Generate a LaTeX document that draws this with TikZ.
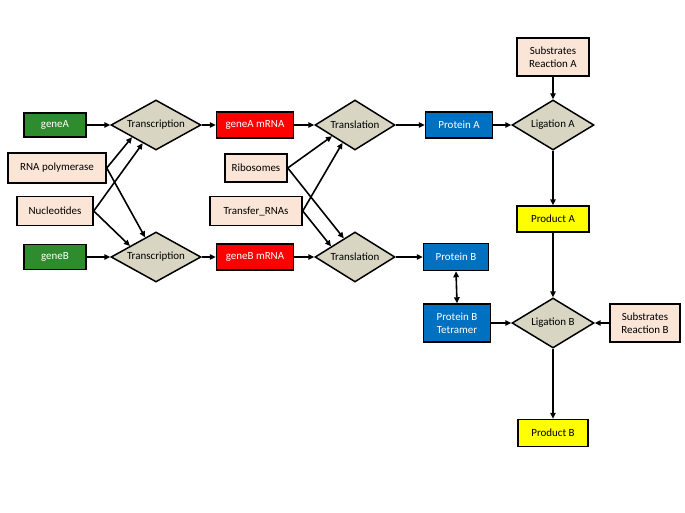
\documentclass[tikz,border=0pt]{standalone}
\usepackage{fontspec}
\setmainfont{Carlito}
\usetikzlibrary{shapes.geometric,arrows.meta}
\definecolor{genegreen}{RGB}{46,139,46}
\definecolor{mrnared}{RGB}{255,0,0}
\definecolor{protblue}{RGB}{0,112,192}
\definecolor{inpeach}{RGB}{251,229,214}
\definecolor{prodyellow}{RGB}{255,255,0}
\definecolor{reacttan}{RGB}{217,213,195}
\begin{document}
\begin{tikzpicture}[x=1bp,y=-1bp,
  every node/.style={font=\fontsize{11}{13.5}\selectfont},
  >={Triangle[length=6pt,width=5.5pt]},
  box/.style={draw,line width=1.5pt,minimum height=26bp,inner sep=1pt,align=center},
  gene/.style={box,fill=genegreen,text=white},
  mrna/.style={box,fill=mrnared,text=white},
  protein/.style={box,fill=protblue,text=white},
  input/.style={box,fill=inpeach},
  product/.style={box,fill=prodyellow},
  react/.style={draw,diamond,aspect=1.8,line width=1.5pt,fill=reacttan,inner sep=0pt,minimum height=50bp},
  link/.style={->,line width=1.6pt}]
\fill[white] (0,0) rectangle (685,513);
\useasboundingbox (0,0) rectangle (685,513);
% gene A branch
\node[gene,minimum width=62bp,minimum height=24bp] (geneA) at (55,125) {geneA};
\node[react,minimum width=90bp] (txA) at (156,125) {Transcription};
\node[mrna,minimum width=77bp] (mrnaA) at (255,125) {geneA mRNA};
\node[react,minimum width=80bp] (tlA) at (355,125) {Translation};
\node[protein,minimum width=67bp] (protA) at (459,125) {Protein A};
\node[react,minimum width=82bp] (ligA) at (553,125) {Ligation A};
\node[input,minimum width=72bp,minimum height=38bp] (subA) at (553,57) {Substrates\\Reaction A};
\node[product,minimum width=72bp] (prodA) at (553,219) {Product A};
% shared inputs
\node[input,minimum width=98bp,minimum height=30bp] (rnapol) at (57,168) {RNA polymerase};
\node[input,minimum width=76bp,minimum height=29bp] (nucl) at (55,211) {Nucleotides};
\node[input,minimum width=62bp,minimum height=28bp] (ribo) at (256,168) {Ribosomes};
\node[input,minimum width=92bp,minimum height=29bp] (trna) at (256,211) {Transfer\_RNAs};
% gene B branch
\node[gene,minimum width=62bp,minimum height=25bp] (geneB) at (55,257) {geneB};
\node[react,minimum width=90bp] (txB) at (156,257) {Transcription};
\node[mrna,minimum width=77bp] (mrnaB) at (255,257) {geneB mRNA};
\node[react,minimum width=80bp] (tlB) at (355,257) {Translation};
\node[protein,minimum width=65bp,minimum height=27bp] (protB) at (456,257) {Protein B};
\node[protein,minimum width=67bp,minimum height=38bp] (tetra) at (457,323) {Protein B\\Tetramer};
\node[react,minimum width=82bp] (ligB) at (553,323) {Ligation B};
\node[input,minimum width=70bp,minimum height=38bp] (subB) at (645,323) {Substrates\\Reaction B};
\node[product,minimum width=70bp,minimum height=27bp] (prodB) at (553,433) {Product B};
% main chains
\draw[link] (geneA.east) -- (txA.west);
\draw[link] (txA.east) -- (mrnaA.west);
\draw[link] (mrnaA.east) -- (tlA.west);
\draw[link] (tlA.east) -- (protA.west);
\draw[link] (protA.east) -- (ligA.west);
\draw[link] (subA.south) -- (ligA.north);
\draw[link] (ligA.south) -- (prodA.north);
\draw[link] (geneB.east) -- (txB.west);
\draw[link] (txB.east) -- (mrnaB.west);
\draw[link] (mrnaB.east) -- (tlB.west);
\draw[link] (tlB.east) -- (protB.west);
\draw[<->,line width=1.6pt] (protB.south) -- (tetra.north);
\draw[link] (tetra.east) -- (ligB.west);
\draw[link] (subB.west) -- (ligB.east);
\draw[link] (prodA.south) -- (ligB.north);
\draw[link] (ligB.south) -- (prodB.north);
% crossing inputs
\draw[link] (rnapol.east) -- (txA.207);
\draw[link] (rnapol.east) -- (txB.119);
\draw[link] (nucl.east) -- (txA.234);
\draw[link] (nucl.east) -- (txB.157);
\draw[link] (ribo.east) -- (tlA.206);
\draw[link] (ribo.east) -- (tlB.121);
\draw[link] (trna.east) -- (tlA.235);
\draw[link] (trna.east) -- (tlB.156);
\end{tikzpicture}
\end{document}
